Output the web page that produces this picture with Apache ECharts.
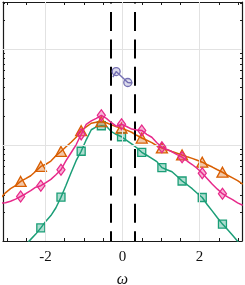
<!DOCTYPE html>
<html><head><meta charset="utf-8">
<script src="https://cdn.jsdelivr.net/npm/echarts@6/dist/echarts.min.js"></script>
<style>html,body{margin:0;padding:0;background:#fff}#c{width:245px;height:285px}</style>
</head><body><div id="c"></div>
<script>
const xs = [-3.167,-3.036,-2.905,-2.774,-2.643,-2.512,-2.381,-2.250,-2.119,-1.988,-1.858,-1.727,-1.596,-1.465,-1.334,-1.203,-1.072,-0.941,-0.810,-0.679,-0.549,-0.418,-0.287,-0.156,-0.025,0.106,0.237,0.368,0.499,0.629,0.760,0.891,1.022,1.153,1.284,1.415,1.546,1.677,1.808,1.938,2.069,2.200,2.331,2.462,2.593,2.724,2.855,2.986,3.117];
const orangeY = [0.0279,0.0318,0.0351,0.0377,0.0418,0.0446,0.0479,0.0533,0.0599,0.0631,0.0682,0.0774,0.0858,0.0960,0.107,0.1206,0.141,0.155,0.1688,0.1728,0.175,0.171,0.1625,0.155,0.150,0.1433,0.136,0.1265,0.1184,0.1122,0.106,0.0984,0.0933,0.0893,0.0857,0.0823,0.0789,0.0757,0.0727,0.0695,0.0663,0.0624,0.0590,0.0553,0.0521,0.0485,0.0455,0.0426,0.0391];
const pinkY = [0.0249,0.0251,0.026,0.0273,0.0291,0.0311,0.0335,0.0364,0.0377,0.0405,0.0439,0.049,0.0553,0.0687,0.0832,0.1007,0.1295,0.1647,0.179,0.190,0.2043,0.190,0.171,0.157,0.1647,0.1563,0.1468,0.1433,0.142,0.1295,0.1206,0.1058,0.0949,0.0901,0.0851,0.0796,0.0748,0.0682,0.0627,0.057,0.0508,0.0446,0.0391,0.0347,0.0311,0.0288,0.0270,0.0250,0.0236];
const greenY = [0.00445,0.00514,0.00595,0.00687,0.00792,0.00915,0.0104,0.0118,0.0137,0.0161,0.0184,0.0222,0.0286,0.0381,0.0514,0.0687,0.0862,0.1135,0.1444,0.155,0.159,0.157,0.138,0.1287,0.1221,0.1122,0.1031,0.0937,0.0841,0.0783,0.0728,0.0672,0.0582,0.0553,0.0527,0.0473,0.0422,0.0386,0.0351,0.0315,0.0284,0.0239,0.0205,0.0175,0.015,0.0132,0.0115,0.00995,0.00873];
const purpleX = [-0.25,-0.165,0.137,0.255];
const purpleY = [0.511,0.584,0.449,0.443];
const purpleMarked = [1,2];
const xLabelValues = [-2,0,2];
const xTickValues = [-3,-2.5,-2,-1.5,-1,-0.5,0,0.5,1,1.5,2,2.5,3];
const yMajorTicks = [0.01,0.1,1];
const yMinorTicks = [0.02,0.03,0.04,0.05,0.06,0.07,0.08,0.09,0.2,0.3,0.4,0.5,0.6,0.7,0.8,0.9,2,3];
const gridXValues = [-2,0,2];
const gridYValues = [0.1,1];
const dashXValues = [-0.314,0.314];
const xRange = [-3.1,3.1];
const yRange = [0.01,3.1];

const chart = echarts.init(document.getElementById('c'), null, {renderer:'canvas'});
const pairs = ys => xs.map((x,i)=>[x, ys[i]]);
const everyFourth = sym => (v, p) => (p.dataIndex % 4 === 0 ? sym : 'none');
const axisLineStyle = {color:'#1a1a1a', width:1.2};
function xAx(pos, labels){
  return {type:'value', position:pos, min:xRange[0], max:xRange[1],
    axisLine:{show:true, onZero:false, lineStyle:axisLineStyle},
    axisTick:{show:true, inside:true, length:3, customValues:xTickValues, lineStyle:{color:'#1a1a1a', width:1}},
    axisLabel:{show:labels, customValues:xLabelValues, margin:9, color:'#111', fontFamily:'Liberation Serif', fontSize:15},
    splitLine:{show:false},
    name: labels ? 'ω' : '', nameLocation:'middle', nameGap:31,
    nameTextStyle:{fontFamily:'Liberation Serif', fontStyle:'italic', fontSize:16, color:'#111'}};
}
function yAx(pos, ticks, len, line){
  return {type:'log', logBase:10, position:pos, min:yRange[0], max:yRange[1],
    axisLine:{show:line, onZero:false, lineStyle:axisLineStyle},
    axisTick:{show:true, inside:true, length:len, customValues:ticks, lineStyle:{color:'#1a1a1a', width:1}},
    axisLabel:{show:false}, splitLine:{show:false}, minorTick:{show:false}};
}
function lineSeries(name, ys, stroke, fill, sym, size, z){
  return {type:'line', name, data:pairs(ys), xAxisIndex:0, yAxisIndex:0, z,
    symbol: everyFourth(sym), symbolSize:size, showSymbol:true, showAllSymbol:true, clip:true,
    lineStyle:{color:stroke, width:1.5}, itemStyle:{color:fill, borderColor:stroke, borderWidth:1.3},
    emphasis:{disabled:true}, animation:false};
}
chart.setOption({
  animation:false,
  grid:{left:3, right:3, top:2, bottom:44, containLabel:false, outerBoundsMode:'none'},
  xAxis:[xAx('bottom', true), xAx('top', false)],
  yAxis:[yAx('left', yMajorTicks, 4, true), yAx('right', yMajorTicks, 4, true),
         yAx('left', yMinorTicks, 2, false), yAx('right', yMinorTicks, 2, false)],
  series:[
    {type:'line', data:[], xAxisIndex:0, yAxisIndex:0, z:1, silent:true,
     markLine:{silent:true, symbol:'none', label:{show:false}, animation:false,
       lineStyle:{color:'#e2e2e2', width:1, type:'solid'},
       data:[...gridXValues.map(v=>({xAxis:v})), ...gridYValues.map(v=>({yAxis:v}))]}},
    lineSeries('green', greenY, '#1b9e77', 'rgba(27,158,119,0.35)', 'rect', 8, 3),
    lineSeries('orange', orangeY, '#d95f02', 'rgba(217,95,2,0.35)', 'triangle', [11,10], 4),
    lineSeries('pink', pinkY, '#e7298a', 'rgba(231,41,138,0.35)', 'diamond', [8,11], 5),
    {type:'line', name:'purple', data:purpleX.map((x,i)=>[x, purpleY[i]]), z:6,
     symbol:(v,p)=>purpleMarked.includes(p.dataIndex)?'circle':'none', symbolSize:8, showSymbol:true,
     lineStyle:{color:'#7570b3', width:1.5}, itemStyle:{color:'rgba(117,112,179,0.25)', borderColor:'#7570b3', borderWidth:1.3},
     emphasis:{disabled:true}, animation:false,
     markLine:{silent:true, symbol:'none', label:{show:false}, animation:false,
       lineStyle:{color:'#000', width:2, type:[19,8.4], dashOffset:17.4},
       data: dashXValues.map(v=>[{coord:[v, yRange[1]]},{coord:[v, yRange[0]]}])}}
  ]
});
</script></body></html>
